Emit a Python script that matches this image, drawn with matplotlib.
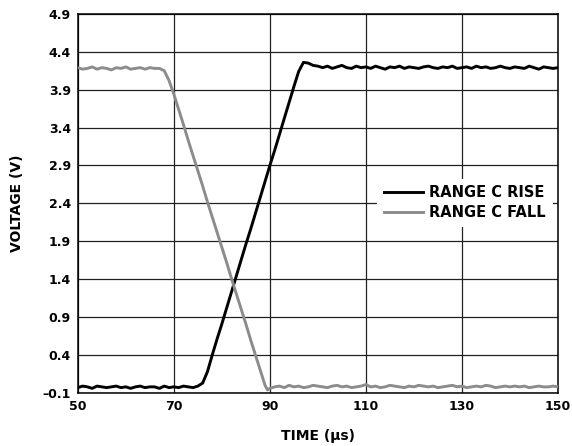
import numpy as np
from matplotlib import pyplot as plt

# time axis in microseconds (1 us steps, plus a point at the bottom of the fall)
time_us = list(range(50, 151))

rise_v = [
    -0.03, -0.01, -0.02, -0.04, -0.01, -0.02, -0.03, -0.02, -0.01, -0.03,
    -0.02, -0.04, -0.02, -0.01, -0.03, -0.02, -0.02, -0.04, -0.01, -0.03,
    -0.02, -0.03, -0.01, -0.02, -0.03, -0.01,
    0.03, 0.18, 0.40, 0.61, 0.81, 1.02, 1.23, 1.44, 1.65, 1.86,
    2.06, 2.27, 2.48, 2.69, 2.90, 3.10, 3.31, 3.52, 3.73, 3.94,
    4.14, 4.26, 4.25, 4.22, 4.21,
    4.19, 4.21, 4.18, 4.20, 4.22, 4.19, 4.18, 4.21, 4.19, 4.20,
    4.18, 4.21, 4.19, 4.17, 4.20, 4.19, 4.21, 4.18, 4.20, 4.19,
    4.18, 4.20, 4.21, 4.19, 4.18, 4.20, 4.19, 4.21, 4.18, 4.19,
    4.20, 4.18, 4.21, 4.19, 4.20, 4.18, 4.19, 4.21, 4.19, 4.18,
    4.20, 4.19, 4.18, 4.21, 4.19, 4.17, 4.20, 4.19, 4.18, 4.19,
]

fall_v = [
    4.19, 4.17, 4.18, 4.20, 4.17, 4.19, 4.18, 4.16, 4.19, 4.18,
    4.20, 4.17, 4.18, 4.19, 4.17, 4.19, 4.18, 4.18,
    4.15, 4.02, 3.84, 3.64, 3.44, 3.23, 3.03, 2.83, 2.63, 2.42,
    2.22, 2.02, 1.82, 1.62, 1.41, 1.21, 1.01, 0.81, 0.60, 0.40,
    0.20, 0.00, -0.06, -0.04, -0.02,
    -0.01, -0.03, 0.00, -0.02, -0.01, -0.03, -0.02, 0.00, -0.01, -0.02,
    -0.03, -0.01, 0.00, -0.02, -0.01, -0.03, -0.02, -0.01, 0.01, -0.02,
    -0.01, -0.03, -0.02, 0.00, -0.01, -0.02, -0.03, -0.01, -0.02, 0.00,
    -0.01, -0.02, -0.01, -0.03, -0.02, -0.01, 0.00, -0.02, -0.01, -0.03,
    -0.02, -0.01, -0.02, 0.00, -0.01, -0.03, -0.02, -0.01, -0.02, -0.01,
    -0.02, -0.01, -0.03, -0.02, -0.01, -0.02, -0.02, -0.01, -0.02,
]

fall_time_us = list(range(50, 90)) + [89.5] + list(range(90, 151))

x_ticks = [50, 70, 90, 110, 130, 150]
y_ticks = [-0.1, 0.4, 0.9, 1.4, 1.9, 2.4, 2.9, 3.4, 3.9, 4.4, 4.9]

plt.rcParams["font.family"] = ["DejaVu Sans"]
plt.rcParams["font.weight"] = "bold"

fig = plt.figure(figsize=(5.72, 4.46), dpi=100)
ax = fig.add_axes([0.136, 0.119, 0.8395, 0.85])

ax.plot(time_us, rise_v, color="black", linewidth=2.1, label="RANGE C RISE", zorder=3)
ax.plot(fall_time_us, fall_v, color="#8c8c8c", linewidth=2.1, label="RANGE C FALL", zorder=3)

ax.set_xlim(50, 150)
ax.set_ylim(-0.1, 4.9)
ax.set_xticks(x_ticks)
ax.set_yticks(y_ticks)
ax.set_yticklabels([f"{v:.1f}".replace("-", "\u2013") for v in y_ticks])
ax.grid(True, color="#222222", linewidth=0.9)
ax.set_axisbelow(True)
ax.tick_params(axis="both", length=0, labelsize=9, pad=5)
for lbl in ax.get_xticklabels() + ax.get_yticklabels():
    lbl.set_fontweight("bold")
for sp in ax.spines.values():
    sp.set_linewidth(1.1)

ax.set_xlabel("TIME (\u00b5s)", fontsize=10, fontweight="bold", labelpad=11.5)
ax.set_ylabel("VOLTAGE (V)", fontsize=10, fontweight="bold", labelpad=13)

leg = ax.legend(loc="upper left", bbox_to_anchor=(0.623, 0.565), borderaxespad=0,
                fontsize=10.5, frameon=True, fancybox=False, edgecolor="white",
                framealpha=1, handlelength=2.7, handletextpad=0.45, borderpad=0.45,
                labelspacing=0.32)
leg.get_frame().set_linewidth(0)
for t in leg.get_texts():
    t.set_fontweight("bold")

fig.savefig("out.png", dpi=100)
